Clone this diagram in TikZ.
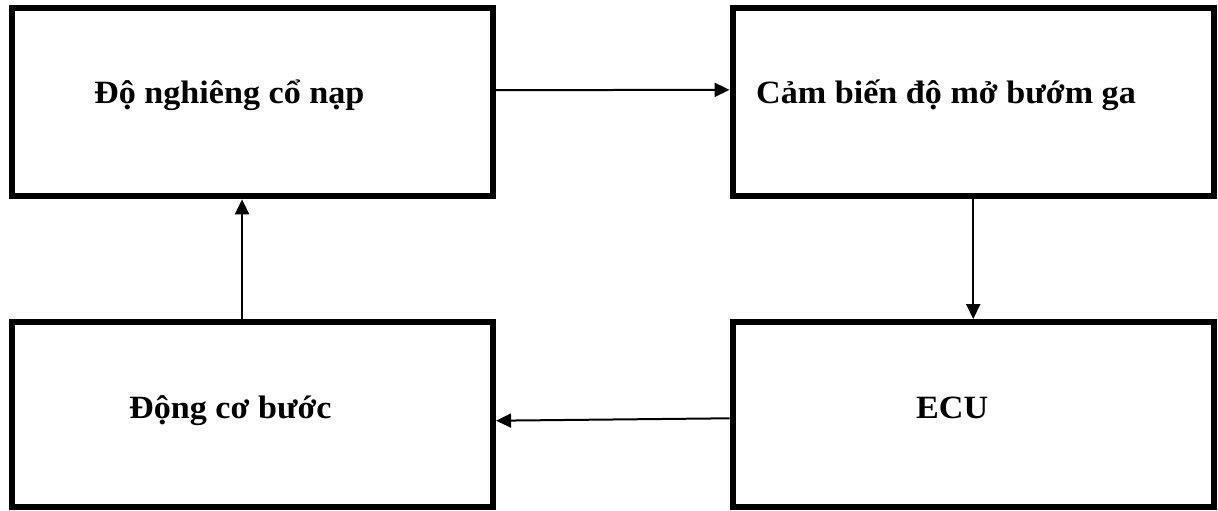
\documentclass[tikz,border=0pt]{standalone}
\usepackage{fontspec}
\usepackage{graphicx}
\setmainfont{Liberation Serif}
\usetikzlibrary{arrows.meta}
\newcommand{\widetext}[1]{\scalebox{1.05}[1]{#1}}
\begin{document}
\begin{tikzpicture}[x=1pt,y=-1pt,
  blockbox/.style={draw=black,line width=6pt,inner sep=0pt,minimum width=481.4pt},
  blocktext/.style={anchor=base west,inner sep=0pt,font=\fontsize{32.5}{38}\selectfont\bfseries},
  flow/.style={line width=2pt,-{Triangle[length=15pt,width=14pt]}}]
  \useasboundingbox (0,0) rectangle (1218,511);
  % the four blocks
  \node[blockbox,minimum height=188.3pt] (tilt) at (252.35,102.15) {};
  \node[blockbox,minimum height=187.7pt] (tps)  at (973.25,101.85) {};
  \node[blockbox,minimum height=185pt]   (step) at (252.35,414.5) {};
  \node[blockbox,minimum height=185pt]   (ecu)  at (973.25,414.5) {};
  % block labels
  \node[blocktext] (tiltT) at (94,103)  {\widetext{Độ nghiêng cổ nạp}};
  \node[blocktext] (tpsT)  at (756,103) {\widetext{Cảm biến độ mở bướm ga}};
  \node[blocktext] (stepT) at (129,418) {\widetext{Động cơ bước}};
  \node[blocktext] (ecuT)  at (916,418) {\widetext{ECU}};
  % signal flow
  \draw[flow] ([yshift=12pt]tilt.east) -- ([yshift=12pt]tps.west);
  \draw[flow] (tps.south) -- (ecu.north);
  \draw[flow] ([yshift=-3.8pt]ecu.west) -- ([yshift=-6.2pt]step.east);
  \draw[flow] ([xshift=-10.3pt]step.north) -- ([xshift=-10.3pt]tilt.south);
\end{tikzpicture}
\end{document}
